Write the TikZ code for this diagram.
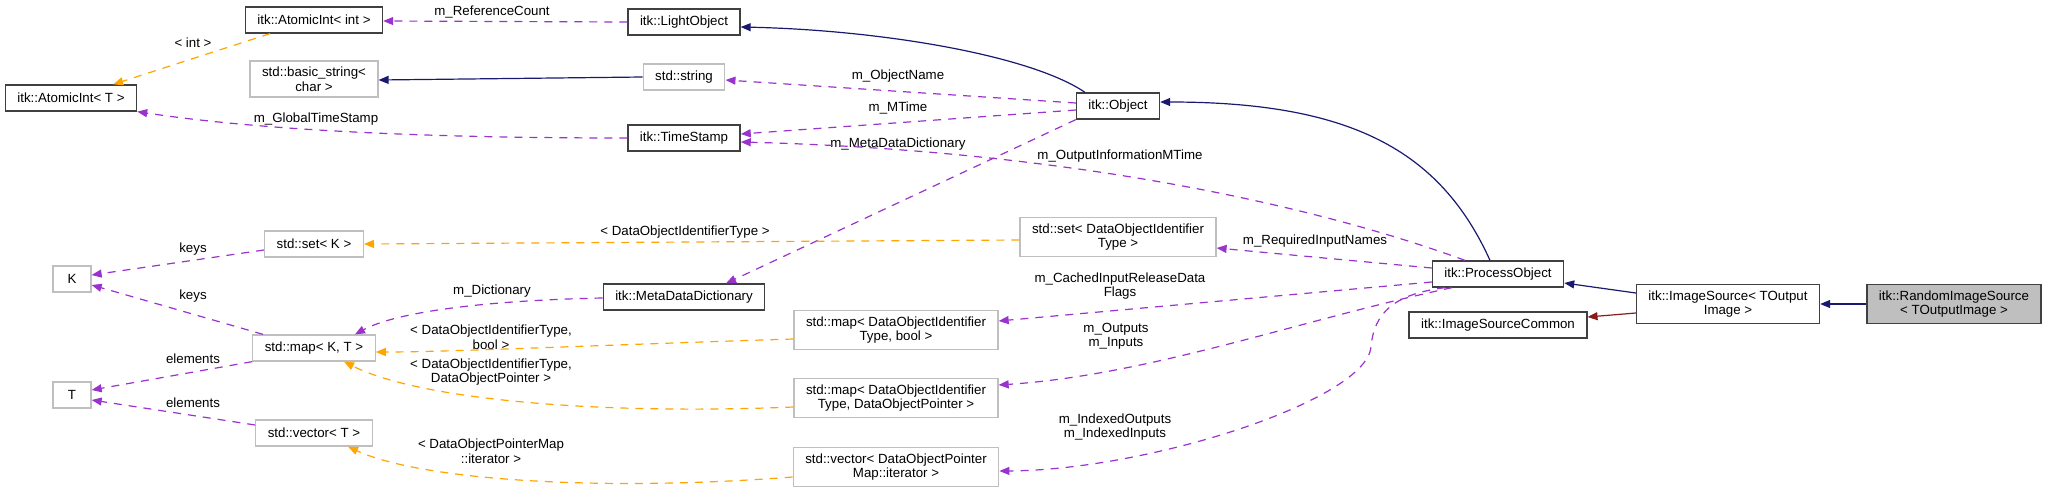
\documentclass[tikz,border=0pt]{standalone}
\usepackage{fontspec}
\setmainfont{Liberation Sans}
\usetikzlibrary{arrows.meta}

\definecolor{memberpurple}{RGB}{154,50,205}
\definecolor{tplorange}{RGB}{255,165,0}
\definecolor{inhnavy}{RGB}{25,25,112}
\definecolor{privred}{RGB}{139,26,26}
\definecolor{extgrey}{RGB}{191,191,191}

\tikzset{
  cls/.style={draw=black!75,line width=1.3pt,fill=white,align=center,font=\fontsize{13.3}{14.5}\selectfont,inner xsep=12pt,inner ysep=6pt,minimum height=26pt,minimum width=38pt},
  ext/.style={cls,draw=extgrey},
  cur/.style={cls,fill=extgrey},
  lbl/.style={align=center,font=\fontsize{13.3}{14.5}\selectfont,inner sep=0pt},
  mem/.style={->,draw=memberpurple,line width=1.2pt,dash pattern=on 8pt off 7pt},
  tpl/.style={mem,draw=tplorange},
  inh/.style={->,draw=inhnavy,line width=1.2pt},
  priv/.style={inh,draw=privred}
}

\begin{document}
\begin{tikzpicture}[x=1pt,y=-1pt,>={Triangle[length=10pt,width=8pt]}]
\useasboundingbox (0,0) rectangle (2045,493);
% classes
\node[cls] (aiInt) at (314,20) {itk::AtomicInt< int >};
\node[cls] (lightObj) at (684,22) {itk::LightObject};
\node[cls] (aiT) at (71,98) {itk::AtomicInt< T >};
\node[ext] (basicStr) at (314,79) {std::basic\_string<\\char >};
\node[ext] (stdStr) at (684,77) {std::string};
\node[cls] (object) at (1118,106) {itk::Object};
\node[cls] (timeStamp) at (684,138) {itk::TimeStamp};
\node[ext] (setK) at (314,244) {std::set< K >};
\node[ext] (keyK) at (72,279) {K};
\node[cls] (mdd) at (684,297) {itk::MetaDataDictionary};
\node[ext] (setId) at (1118,237) {std::set< DataObjectIdentifier\\Type >};
\node[cls] (procObj) at (1498,274) {itk::ProcessObject};
\node[cls] (imgSrc) at (1728,304) {itk::ImageSource< TOutput\\Image >};
\node[cur] (randSrc) at (1954,304) {itk::RandomImageSource\\< TOutputImage >};
\node[cls] (imgCommon) at (1498,325) {itk::ImageSourceCommon};
\node[ext] (mapKT) at (314,348) {std::map< K, T >};
\node[ext] (mapIdBool) at (896,330) {std::map< DataObjectIdentifier\\Type, bool >};
\node[ext] (valT) at (72,395) {T};
\node[ext] (mapIdPtr) at (896,398) {std::map< DataObjectIdentifier\\Type, DataObjectPointer >};
\node[ext] (vecT) at (314,433) {std::vector< T >};
\node[ext] (vecIt) at (896,467) {std::vector< DataObjectPointer\\Map::iterator >};

% edge labels
\node[lbl] (lRefCount) at (492,12) {m\_ReferenceCount};
\node[lbl] (lInt) at (193,43) {< int >};
\node[lbl] (lGlobalTime) at (316,119) {m\_GlobalTimeStamp};
\node[lbl] (lObjName) at (898,76) {m\_ObjectName};
\node[lbl] (lMTime) at (898,108) {m\_MTime};
\node[lbl] (lMetaDict) at (898,144) {m\_MetaDataDictionary};
\node[lbl] (lOutInfo) at (1120,156) {m\_OutputInformationMTime};
\node[lbl] (lIdType) at (685,232) {< DataObjectIdentifierType >};
\node[lbl] (lReqNames) at (1315,241) {m\_RequiredInputNames};
\node[lbl] (lKeysA) at (193,249) {keys};
\node[lbl] (lKeysB) at (193,296) {keys};
\node[lbl] (lDict) at (492,291) {m\_Dictionary};
\node[lbl] (lCached) at (1120,286) {m\_CachedInputReleaseData\\Flags};
\node[lbl] (lIdBool) at (491,337) {< DataObjectIdentifierType,\\bool >};
\node[lbl] (lInOut) at (1116,336) {m\_Outputs\\m\_Inputs};
\node[lbl] (lElemA) at (193,359) {elements};
\node[lbl] (lElemB) at (193,403) {elements};
\node[lbl] (lIdPtr) at (491,372) {< DataObjectIdentifierType,\\DataObjectPointer >};
\node[lbl] (lIndexed) at (1115,427) {m\_IndexedOutputs\\m\_IndexedInputs};
\node[lbl] (lIter) at (491,451) {< DataObjectPointerMap\\::iterator >};

% inheritance
\draw[inh] (stdStr.west) -- ([yshift=-1pt]basicStr.east);
\draw[inh] ([xshift=-33pt]object.north) .. controls (1030,55) and (880,30) .. ([yshift=-5pt]lightObj.east);
\draw[inh] ([xshift=-8pt]procObj.north) .. controls (1440,150) and (1350,102) .. ([yshift=4pt]object.east);
\draw[inh] ([yshift=11pt]imgSrc.west) -- ([yshift=-9pt]procObj.east);
\draw[priv] ([yshift=-9pt]imgSrc.west) -- ([yshift=8pt]imgCommon.east);
\draw[inh] (randSrc.west) -- (imgSrc.east);

% members
\draw[mem] (lightObj.west) -- ([yshift=-1pt]aiInt.east);
\draw[mem] (timeStamp.west) .. controls (420,138) and (260,130) .. (aiT.south east);
\draw[mem] ([yshift=3pt]object.west) -- ([yshift=-3pt]stdStr.east);
\draw[mem] ([yshift=-4pt]object.west) -- ([yshift=4pt]timeStamp.east);
\draw[mem] (object.south west) -- ([xshift=42pt]mdd.north);
\draw[mem] ([xshift=-33pt]procObj.north) .. controls (1300,200) and (1050,150) .. ([yshift=-4pt]timeStamp.east);
\draw[mem] ([yshift=6pt]procObj.west) -- ([yshift=-11pt]setId.east);
\draw[mem] ([yshift=-8pt]procObj.west) -- ([yshift=9pt]mapIdBool.east);
\draw[mem] ([xshift=-46pt]procObj.south) .. controls (1300,320) and (1150,375) .. ([yshift=13pt]mapIdPtr.east);
\draw[mem] ([xshift=-53pt]procObj.south) .. controls (1395,294) and (1374,312) .. (1371,347)
  .. controls (1366,400) and (1150,470) .. ([yshift=-4pt]vecIt.east);
\draw[mem] ([yshift=-6pt]setK.west) -- ([yshift=4pt]keyK.east);
\draw[mem] ([xshift=-51pt]mapKT.north) -- ([yshift=-6pt]keyK.east);
\draw[mem] (mapKT.south west) -- ([yshift=5pt]valT.east);
\draw[mem] ([yshift=8pt]vecT.west) -- ([yshift=-5pt]valT.east);
\draw[mem] ([yshift=-1pt]mdd.west) .. controls (500,300) and (400,310) .. ([xshift=41pt]mapKT.north);

% template instances
\draw[tpl] ([xshift=-44pt]aiInt.south) -- ([xshift=-24pt]aiT.north east);
\draw[tpl] ([yshift=-3pt]setId.west) -- (setK.east);
\draw[tpl] ([yshift=-9pt]mapIdBool.west) .. controls (600,345) and (450,352) .. ([yshift=-4pt]mapKT.east);
\draw[tpl] ([yshift=-9pt]mapIdPtr.west) .. controls (600,415) and (420,400) .. ([xshift=30pt]mapKT.south);
\draw[tpl] ([yshift=-10pt]vecIt.west) .. controls (600,492) and (420,480) .. ([xshift=34pt]vecT.south);
\end{tikzpicture}
\end{document}
